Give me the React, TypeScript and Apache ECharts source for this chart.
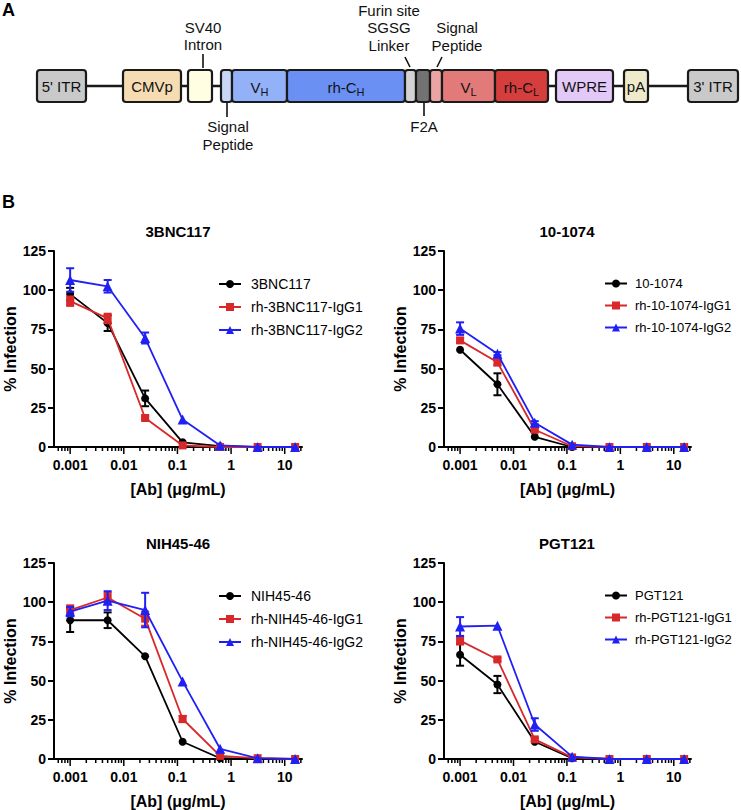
import React, { useEffect, useRef } from 'react';
import * as echarts from 'echarts';

const FONT = '"Liberation Sans", Arial, Helvetica, sans-serif';

// ---------- DATA ----------
const concentrations = [0.001, 0.005, 0.025, 0.125, 0.625, 3.125, 15.625];
const xTickValues = [0.001, 0.01, 0.1, 1, 10];
const xTickLabels = ['0.001', '0.01', '0.1', '1', '10'];
const minorTickMultipliers = [2, 3, 4, 5, 6, 7, 8, 9];
const minorTickDecades = [0.0001, 0.001, 0.01, 0.1, 1, 10];
const yTickInterval = 25;

const panelTitles = ['3BNC117', '10-1074', 'NIH45-46', 'PGT121'];
const parentNames = ['3BNC117', '10-1074', 'NIH45-46', 'PGT121'];
const igg1Names = ['rh-3BNC117-IgG1', 'rh-10-1074-IgG1', 'rh-NIH45-46-IgG1', 'rh-PGT121-IgG1'];
const igg2Names = ['rh-3BNC117-IgG2', 'rh-10-1074-IgG2', 'rh-NIH45-46-IgG2', 'rh-PGT121-IgG2'];

// 3BNC117
const bnc117Parent = [97.5, 79, 31, 3, 0.5, 0, 0];
const bnc117ParentErr = [4, 5, 5, 0, 0, 0, 0];
const bnc117IgG1 = [93, 82, 18.5, 1, 0, 0, 0];
const bnc117IgG1Err = [3, 3, 1, 0, 0, 0, 0];
const bnc117IgG2 = [106.5, 102.5, 69.5, 17.5, 1, 0, 0];
const bnc117IgG2Err = [7.5, 4, 3.5, 0, 0, 0, 0];

// 10-1074
const n1074Parent = [62, 40, 6.5, 0, 0, 0, 0];
const n1074ParentErr = [0, 7, 0, 0, 0, 0, 0];
const n1074IgG1 = [68, 54, 11, 0.5, 0, 0, 0];
const n1074IgG1Err = [1.5, 2, 1, 0, 0, 0, 0];
const n1074IgG2 = [75.5, 59.5, 15.5, 1.5, 0, 0, 0];
const n1074IgG2Err = [4, 1, 1, 0, 0, 0, 0];

// NIH45-46
const nih4546Parent = [88.5, 88.5, 65.5, 11, 0.5, 0, 0];
const nih4546ParentErr = [7.5, 5, 0, 0, 0, 0, 0];
const nih4546IgG1 = [95, 103, 89.5, 25.5, 2, 0.5, 0];
const nih4546IgG1Err = [3, 3, 4.5, 2, 0, 0, 0];
const nih4546IgG2 = [94, 101, 95, 49.5, 6.5, 0.5, 0];
const nih4546IgG2Err = [3, 6, 11, 0, 0, 0, 0];

// PGT121
const pgt121Parent = [66.5, 47.5, 11, 0.5, 0, 0, 0];
const pgt121ParentErr = [7, 5.5, 0, 0, 0, 0, 0];
const pgt121IgG1 = [75.5, 63.5, 12.5, 1, 0, 0, 0];
const pgt121IgG1Err = [2.5, 1, 1, 0, 0, 0, 0];
const pgt121IgG2 = [84.5, 85, 22, 1.5, 0, 0, 0];
const pgt121IgG2Err = [6, 0, 4, 0, 0, 0, 0];

const panelValues = [
  [bnc117Parent, bnc117IgG1, bnc117IgG2],
  [n1074Parent, n1074IgG1, n1074IgG2],
  [nih4546Parent, nih4546IgG1, nih4546IgG2],
  [pgt121Parent, pgt121IgG1, pgt121IgG2],
];
const panelErrors = [
  [bnc117ParentErr, bnc117IgG1Err, bnc117IgG2Err],
  [n1074ParentErr, n1074IgG1Err, n1074IgG2Err],
  [nih4546ParentErr, nih4546IgG1Err, nih4546IgG2Err],
  [pgt121ParentErr, pgt121IgG1Err, pgt121IgG2Err],
];

// ---------- STYLE / LAYOUT ----------
const seriesColors = ['#000000', '#d8282a', '#2020f4'];
const seriesSymbols = ['circle', 'rect', 'triangle'];
const symbolSizes = [8, 8, 10];

const grids = [
  { left: 54, top: 251, width: 248, height: 196 },
  { left: 444, top: 251, width: 247, height: 196 },
  { left: 54, top: 563, width: 248, height: 196 },
  { left: 444, top: 563, width: 247, height: 196 },
];
const titlePos = [[178, 231], [567, 231], [178, 543], [567, 543]];
const legendPos = [[213, 272], [599, 272], [213, 584], [599, 584]];
const legendFontSizes = [14, 13, 14, 13];
const legendTextPad = [5, 3, 5, 3];

// diagram boxes: [x0, x1, fill]
const diagramBoxes: [number, number, string][] = [
  [37, 86, '#c9c9c9'],
  [123, 181, '#f6dcb3'],
  [188, 212, '#fffde2'],
  [221, 232, '#c8d7f7'],
  [232, 287, '#93b1f8'],
  [287, 405, '#6b90f3'],
  [405, 416, '#d3d3d3'],
  [416, 430, '#727272'],
  [430, 442, '#eba4a4'],
  [442, 495, '#e27a7a'],
  [495, 548, '#d63d3d'],
  [556, 613, '#e2c9f7'],
  [624, 648, '#eeeacb'],
  [688, 738, '#c9c9c9'],
];

function buildOption() {
  const series: any[] = [];
  const xAxes: any[] = [];
  const yAxes: any[] = [];
  const legends: any[] = [];
  const graphics: any[] = [];

  const tickData: number[][] = [];
  xTickValues.forEach((v) => tickData.push([v, 0, 1]));
  minorTickDecades.forEach((d) =>
    minorTickMultipliers.forEach((m) => {
      const v = m * d;
      if (v > 0.0005 && v < 21) tickData.push([v, 0, 0]);
    })
  );

  for (let i = 0; i < 4; i++) {
    xAxes.push({
      type: 'log',
      logBase: 10,
      gridIndex: i,
      min: 0.0005,
      max: 21,
      axisLine: { show: true, lineStyle: { color: '#000', width: 2 } },
      axisTick: { show: false },
      splitLine: { show: false },
      minorTick: { show: false },
      axisLabel: {
        margin: 11,
        color: '#000',
        fontFamily: FONT,
        fontWeight: 'bold',
        fontSize: 14,
        formatter: (v: number) => {
          const idx = xTickValues.findIndex((t) => Math.abs(Math.log10(v) - Math.log10(t)) < 1e-6);
          return idx >= 0 ? xTickLabels[idx] : '';
        },
      },
      name: '[Ab] (\u03bcg/mL)',
      nameLocation: 'middle',
      nameGap: 34,
      nameTextStyle: { color: '#000', fontFamily: FONT, fontWeight: 'bold', fontSize: 16 },
    });
    yAxes.push({
      type: 'value',
      gridIndex: i,
      min: 0,
      max: 125,
      interval: yTickInterval,
      axisLine: { show: true, lineStyle: { color: '#000', width: 2 } },
      axisTick: { show: true, length: 6, lineStyle: { color: '#000', width: 2 } },
      splitLine: { show: false },
      axisLabel: { margin: 8, color: '#000', fontFamily: FONT, fontWeight: 'bold', fontSize: 14 },
      name: '% Infection',
      nameLocation: 'middle',
      nameGap: 36,
      nameTextStyle: { color: '#000', fontFamily: FONT, fontWeight: 'bold', fontSize: 16 },
    });

    const names = [parentNames[i], igg1Names[i], igg2Names[i]];
    for (let s = 0; s < 3; s++) {
      const vals = panelValues[i][s];
      const errs = panelErrors[i][s];
      const color = seriesColors[s];
      series.push({
        type: 'custom',
        xAxisIndex: i,
        yAxisIndex: i,
        silent: true,
        z: 2 + s,
        clip: false,
        data: concentrations.map((c, k) => [c, vals[k], errs[k]]).filter((d) => d[2] > 0),
        renderItem: (params: any, api: any) => {
          const x = api.value(0);
          const m = api.value(1);
          const e = api.value(2);
          const top = api.coord([x, m + e]);
          const bot = api.coord([x, Math.max(m - e, 0)]);
          const hw = 4;
          const st = { stroke: color, lineWidth: 2 };
          return {
            type: 'group',
            children: [
              { type: 'line', shape: { x1: top[0], y1: top[1], x2: bot[0], y2: bot[1] }, style: st },
              { type: 'line', shape: { x1: top[0] - hw, y1: top[1], x2: top[0] + hw, y2: top[1] }, style: st },
              { type: 'line', shape: { x1: bot[0] - hw, y1: bot[1], x2: bot[0] + hw, y2: bot[1] }, style: st },
            ],
          };
        },
      });
      series.push({
        type: 'line',
        name: names[s],
        xAxisIndex: i,
        yAxisIndex: i,
        z: 2 + s,
        data: concentrations.map((c, k) => [c, vals[k]]),
        symbol: seriesSymbols[s],
        symbolSize: symbolSizes[s],
        showAllSymbol: true,
        clip: false,
        itemStyle: { color },
        lineStyle: { color, width: 1.8 },
      });
    }

    // axis ticks (major & minor) on the log axis
    series.push({
      type: 'custom',
      xAxisIndex: i,
      yAxisIndex: i,
      silent: true,
      clip: false,
      z: 1,
      data: tickData,
      renderItem: (params: any, api: any) => {
        const p = api.coord([api.value(0), 0]);
        const len = api.value(2) ? 7 : 4;
        return {
          type: 'line',
          shape: { x1: p[0], y1: p[1], x2: p[0], y2: p[1] + len },
          style: { stroke: '#000', lineWidth: 1.5 },
        };
      },
    });

    legends.push({
      data: names,
      orient: 'vertical',
      left: legendPos[i][0],
      top: legendPos[i][1],
      itemWidth: 22,
      itemHeight: 10,
      itemGap: 9,
      selectedMode: false,
      textStyle: {
        color: '#000',
        fontFamily: FONT,
        fontSize: legendFontSizes[i],
        padding: [0, 0, 0, legendTextPad[i]],
      },
    });

    graphics.push({
      type: 'text',
      x: titlePos[i][0],
      y: titlePos[i][1],
      style: {
        text: panelTitles[i],
        fill: '#000',
        font: `bold 15px ${FONT}`,
        textAlign: 'center',
        textVerticalAlign: 'middle',
      },
    });
  }

  // ---- Diagram (panel A) ----
  graphics.push({
    type: 'line',
    z: 0,
    shape: { x1: 60, y1: 86, x2: 710, y2: 86 },
    style: { stroke: '#1a1a1a', lineWidth: 2.5 },
  });
  diagramBoxes.forEach(([x0, x1, fill]) => {
    graphics.push({
      type: 'rect',
      z: 1,
      shape: { x: x0, y: 70, width: x1 - x0, height: 32, r: 3 },
      style: { fill, stroke: '#1a1a1a', lineWidth: 2.2 },
    });
  });

  const plain = (text: string, x: number, y: number, size = 15) => ({
    type: 'text',
    z: 5,
    x,
    y,
    style: { text, fill: '#111', font: `${size}px ${FONT}`, textAlign: 'center', textVerticalAlign: 'middle' },
  });
  const subText = (main: string, sub: string, x: number, y: number, fill = '#111') => ({
    type: 'text',
    z: 5,
    x,
    y,
    style: {
      text: `{m|${main}}{s|${sub}}`,
      fill,
      textAlign: 'center',
      textVerticalAlign: 'middle',
      rich: {
        m: { fontSize: 15, fontFamily: FONT, lineHeight: 20, fill },
        s: { fontSize: 11, fontFamily: FONT, verticalAlign: 'bottom', lineHeight: 12, fill },
      },
    },
  });

  graphics.push(plain("5' ITR", 61.5, 86));
  graphics.push(plain('CMVp', 152, 86));
  graphics.push(subText('V', 'H', 259.5, 87));
  graphics.push(subText('rh-C', 'H', 346, 87));
  graphics.push(subText('V', 'L', 468.5, 87));
  graphics.push(subText('rh-C', 'L', 521.5, 87));
  graphics.push(plain('WPRE', 584.5, 86));
  graphics.push(plain('pA', 636, 86));
  graphics.push(plain("3' ITR", 713, 86));

  graphics.push(plain('SV40', 203, 27));
  graphics.push(plain('Intron', 203, 44));
  graphics.push(plain('Furin site', 389, 10));
  graphics.push(plain('SGSG', 389, 27));
  graphics.push(plain('Linker', 389, 45));
  graphics.push(plain('Signal', 457, 27));
  graphics.push(plain('Peptide', 457, 45));
  graphics.push(plain('Signal', 228, 126));
  graphics.push(plain('Peptide', 228, 144));
  graphics.push(plain('F2A', 424, 126));

  const tick = (x1: number, y1: number, x2: number, y2: number) => ({
    type: 'line',
    z: 5,
    shape: { x1, y1, x2, y2 },
    style: { stroke: '#111', lineWidth: 1.6 },
  });
  graphics.push(tick(203, 54, 203, 68));
  graphics.push(tick(227, 103, 227, 117));
  graphics.push(tick(424, 103, 424, 116));
  graphics.push(tick(405, 57, 410, 67));
  graphics.push(tick(442, 57, 437, 67));

  // panel letters
  graphics.push({
    type: 'text',
    x: 2,
    y: 10,
    style: { text: 'A', fill: '#000', font: `bold 18px ${FONT}`, textAlign: 'left', textVerticalAlign: 'middle' },
  });
  graphics.push({
    type: 'text',
    x: 2,
    y: 202,
    style: { text: 'B', fill: '#000', font: `bold 18px ${FONT}`, textAlign: 'left', textVerticalAlign: 'middle' },
  });

  return {
    animation: false,
    backgroundColor: '#ffffff',
    grid: grids.map((g) => ({ ...g, containLabel: false, outerBoundsMode: 'none' })),
    xAxis: xAxes,
    yAxis: yAxes,
    legend: legends,
    series,
    graphic: { elements: graphics },
  };
}

export default function App() {
  const ref = useRef<HTMLDivElement>(null);
  useEffect(() => {
    document.body.style.margin = '0';
    if (!ref.current) return;
    const chart = echarts.init(ref.current, undefined, { renderer: 'svg' });
    chart.setOption(buildOption() as any);
    return () => chart.dispose();
  }, []);
  return <div ref={ref} style={{ width: 741, height: 810 }} />;
}
